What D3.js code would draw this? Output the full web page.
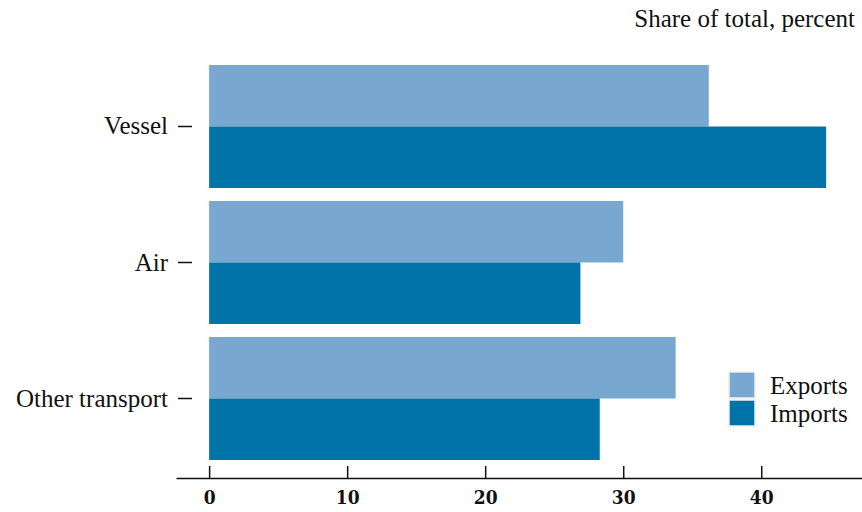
<!DOCTYPE html>
<html>
  <head>
    <meta charset="utf-8" />
    <title>Share of total by mode</title>
    <script src="https://cdn.jsdelivr.net/npm/d3@7"></script>
    <style>
      body { margin: 0; background: #fff; }
      text { font-family: "Liberation Serif", "DejaVu Serif", serif; fill: #111; }
    </style>
  </head>
  <body>
    <svg width="862" height="512"></svg>

    <script>
      // data
      var categories = ["Vessel", "Air", "Other transport"];
      var seriesNames = ["Exports", "Imports"];
      var exportsVals = [36.2, 30.0, 33.8];
      var importsVals = [44.7, 26.9, 28.3];
      var xTicks = [0, 10, 20, 30, 40];
      var colors = ["#78a8cf", "#0074a9"];

      var svg = d3.select("svg");

      var x = d3.scaleLinear().domain([-2.4, 47.3]).range([176, 862]);
      var y = d3.scaleBand().domain(categories).range([65, 460])
        .paddingInner(0.0956).paddingOuter(0);
      var ySub = d3.scaleBand().domain(seriesNames).range([0, y.bandwidth()]);

      var rows = categories.map(function (c, i) {
        return { cat: c, values: [exportsVals[i], importsVals[i]] };
      });

      // bars
      var g = svg.append("g").selectAll("g").data(rows).enter().append("g")
        .attr("transform", function (d) { return "translate(0," + y(d.cat) + ")"; });
      g.selectAll("rect")
        .data(function (d) {
          return d.values.map(function (v, j) { return { s: seriesNames[j], v: v, j: j }; });
        })
        .enter().append("rect")
        .attr("x", x(0))
        .attr("y", function (d) { return ySub(d.s); })
        .attr("width", function (d) { return x(d.v) - x(0); })
        .attr("height", ySub.bandwidth())
        .attr("fill", function (d) { return colors[d.j]; });

      // x axis
      var xAxis = svg.append("g")
        .attr("transform", "translate(0,478)")
        .call(d3.axisBottom(x).tickValues(xTicks).tickSize(-12).tickSizeOuter(0));
      xAxis.select(".domain").attr("stroke", "#111").attr("stroke-width", 1.5);
      xAxis.selectAll(".tick line").attr("stroke", "#111").attr("stroke-width", 1.5);
      xAxis.selectAll(".tick text")
        .attr("y", 13)
        .attr("dy", "0.71em")
        .style("font-family", "'DejaVu Serif Condensed', 'DejaVu Serif', serif")
        .style("font-weight", "bold")
        .style("font-size", "19px")
        .attr("fill", "#111");

      // y axis (labels with dash ticks)
      var yAxis = svg.append("g")
        .attr("transform", "translate(192,0)")
        .call(d3.axisLeft(y).tickSize(14).tickPadding(10));
      yAxis.select(".domain").remove();
      yAxis.selectAll(".tick line").attr("stroke", "#111").attr("stroke-width", 1.5);
      yAxis.selectAll(".tick text")
        .style("font-family", "'Liberation Serif', serif")
        .style("font-size", "25px")
        .attr("fill", "#111");

      // unit label
      svg.append("text")
        .attr("x", 855)
        .attr("y", 27)
        .attr("text-anchor", "end")
        .style("font-size", "25px")
        .text("Share of total, percent");

      // legend
      var legend = svg.append("g").attr("transform", "translate(729,372)");
      seriesNames.forEach(function (s, i) {
        legend.append("rect")
          .attr("x", 0)
          .attr("y", i * 28)
          .attr("width", 26)
          .attr("height", 26)
          .attr("fill", colors[i])
          .attr("stroke", "#eee")
          .attr("stroke-width", 1.5);
        legend.append("text")
          .attr("x", 41)
          .attr("y", i * 28 + 13)
          .attr("dy", "0.35em")
          .style("font-size", "25px")
          .text(s);
      });
    </script>
  </body>
</html>
